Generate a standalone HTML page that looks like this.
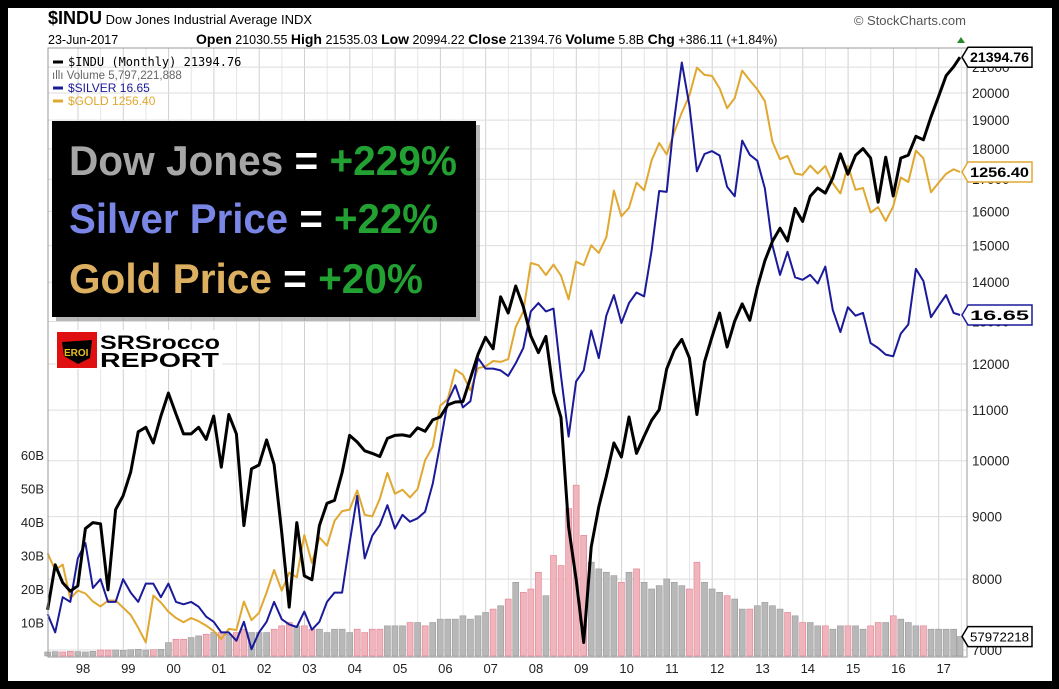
<!DOCTYPE html>
<html><head><meta charset="utf-8"><style>
html,body{margin:0;padding:0;background:#000;}
svg{display:block;font-family:"Liberation Sans",sans-serif;}
</style></head><body>
<svg id="chart" width="1059" height="689" viewBox="0 0 1059 689" xmlns="http://www.w3.org/2000/svg">
<rect x="0" y="0" width="1059" height="689" fill="#000"/>
<rect x="8" y="8" width="1044" height="673" fill="#fff"/>
<g id="grid"></g>
<g id="vol"></g>
<g id="lines"></g>
<rect x="48" y="48" width="919" height="609" fill="none" stroke="#999" stroke-width="1"/>
<g id="axes"></g>
<text x="48" y="24" font-size="13"><tspan font-weight="bold" font-size="18">$INDU</tspan> Dow Jones Industrial Average INDX</text>
<text x="966" y="25" font-size="13" fill="#555" text-anchor="end">© StockCharts.com</text>
<text x="48" y="44" font-size="12.5">23-Jun-2017</text>
<text x="196" y="44" font-size="12.5"><tspan font-weight="bold" font-size="14">Open</tspan> 21030.55 <tspan font-weight="bold" font-size="14">High</tspan> 21535.03 <tspan font-weight="bold" font-size="14">Low</tspan> 20994.22 <tspan font-weight="bold" font-size="14">Close</tspan> 21394.76 <tspan font-weight="bold" font-size="14">Volume</tspan> 5.8B <tspan font-weight="bold" font-size="14">Chg</tspan> +386.11 (+1.84%)</text>
<polygon points="957,43 965,43 961,37" fill="#2a8a2a"/>
<g font-family="'DejaVu Sans Mono','Liberation Mono',monospace" font-size="12">
<line x1="53" y1="62" x2="63" y2="62" stroke="#000" stroke-width="3"/>
<text x="68" y="66" fill="#000">$INDU (Monthly) 21394.76</text>
<text x="52" y="79" fill="#666" font-family="'Liberation Sans',sans-serif" font-size="11.5">ıllı Volume 5,797,221,888</text>
<line x1="53" y1="88" x2="63" y2="88" stroke="#1a1a9a" stroke-width="3"/>
<text x="68" y="92" fill="#1a1a9a" font-family="'Liberation Sans',sans-serif">$SILVER 16.65</text>
<line x1="53" y1="101" x2="63" y2="101" stroke="#e0a830" stroke-width="3"/>
<text x="68" y="105" fill="#e0a830" font-family="'Liberation Sans',sans-serif">$GOLD 1256.40</text>
</g>
<rect x="56" y="125" width="424" height="196" fill="#888" opacity="0.6"/>
<rect x="52" y="121" width="424" height="196" fill="#000"/>
<text x="69" y="175" font-size="42" font-weight="bold" textLength="388" lengthAdjust="spacingAndGlyphs"><tspan fill="#a6a6a6">Dow Jones</tspan><tspan fill="#fff"> = </tspan><tspan fill="#22a032">+229%</tspan></text>
<text x="69" y="233" font-size="42" font-weight="bold" textLength="369" lengthAdjust="spacingAndGlyphs"><tspan fill="#7a86e6">Silver Price</tspan><tspan fill="#fff"> = </tspan><tspan fill="#22a032">+22%</tspan></text>
<text x="69" y="293" font-size="42" font-weight="bold" textLength="354" lengthAdjust="spacingAndGlyphs"><tspan fill="#dcb060">Gold Price</tspan><tspan fill="#fff"> = </tspan><tspan fill="#22a032">+20%</tspan></text>
<g>
<rect x="56" y="330" width="166" height="39" fill="#fff"/>
<rect x="57" y="332" width="40" height="36" fill="#e01010"/>
<path d="M62 342 L92 340 L90 358 L78 364 L64 356 Z" fill="#000"/>
<text x="64" y="356" font-size="10" font-weight="bold" fill="#e8c020">EROI</text>
<text x="100" y="349" font-size="19" font-weight="bold" fill="#000" textLength="120" lengthAdjust="spacingAndGlyphs">SRSrocco</text>
<text x="100" y="367" font-size="20" font-weight="bold" fill="#000" textLength="119" lengthAdjust="spacingAndGlyphs">REPORT</text>
</g>
</svg>
<script>
const dow = [7550,8220,7945,7820,
7900,8800,8900,8880,7840,9120,
9360,9790,10560,10650,10340,10880,
11360,10920,10520,10520,10650,10410,
10880,9880,10910,10520,8850,9850,
9920,10400,9930,8740,7590,8900,
8050,7990,8850,9230,9280,9780,
10490,10360,10190,10140,10080,10430,
10490,10500,10470,10640,10570,10800,
10860,11110,11170,11180,11680,12220,
12620,12350,13620,13210,13900,13370,
12650,12260,12640,11380,10850,8830,
8000,7100,8500,9170,9710,10340,
10070,10860,10140,10470,10790,11010,
11890,12320,12570,12140,10910,12050,
12630,13210,12390,13010,13440,13030,
13860,14580,15120,15500,15130,16090,
15700,16460,16720,16560,17040,17830,
17160,17780,18010,17690,16280,17720,
16470,17690,17790,18430,18310,19120,
19860,20660,21010,21394.76];
const silver = [4.75,4.4,5.1,5.0,
6.0,6.4,5.3,5.5,5.0,5.0,
5.5,5.2,5.0,5.4,5.4,5.1,
5.4,5.0,4.95,5.0,4.9,4.7,
4.6,4.4,4.4,4.25,4.6,4.1,
4.4,4.6,5.0,4.65,4.55,4.5,
4.8,4.45,4.6,5.0,5.2,5.2,
6.4,7.8,6.0,6.6,6.9,7.5,
6.8,7.2,7.0,7.1,7.3,8.2,
9.7,11.6,12.4,11.3,11.6,13.9,
13.3,13.3,13.2,12.9,13.6,14.5,
16.9,17.5,16.9,17.1,12.9,10.0,
12.6,13.2,15.6,13.9,16.6,18.1,
16.1,17.5,18.3,18.0,21.8,28.0,
27.9,37.9,48.0,40.1,30.4,32.7,
33.1,32.5,28.5,27.4,34.6,32.6,
31.8,28.3,22.3,19.7,21.7,19.5,
19.3,19.7,19.0,20.4,17.0,15.5,
17.2,16.6,16.8,14.8,14.5,14.1,
14.0,15.4,16.0,20.2,19.2,16.5,
17.3,18.1,16.8,16.65];
const gold = [345,326,332,296,
304,301,293,288,294,294,
287,280,268,255,299,292,
283,277,273,277,274,270,
265,258,267,266,293,275,
282,302,326,304,323,318,
367,334,364,354,385,398,
400,427,393,391,415,453,
422,428,417,429,473,495,
569,582,643,632,599,646,
650,662,660,666,743,783,
923,916,886,918,884,816,
927,916,980,955,1007,1180,
1081,1113,1212,1181,1307,1386,
1333,1439,1536,1628,1790,1746,
1740,1668,1560,1614,1772,1714,
1663,1597,1393,1312,1327,1250,
1244,1284,1250,1282,1210,1168,
1284,1183,1190,1095,1115,1064,
1118,1233,1214,1351,1316,1173,
1211,1249,1268,1256.4];
const volumeB = [1.2,1.3,1.2,1.4,
1.3,1.2,1.4,1.8,1.8,1.8,
1.7,1.9,2.0,1.8,1.9,2.0,
4,5,5,5.5,6,6.5,
7,7,6.5,7,8,7,
7,7,8,9,10,9,
9,8,8,7,8,8,
7,8,7,8,8,9,
9,9,10,10,9,10,
11,11,11,12,11,12,
13,14,15,17,22,19,
20,25,18,30,27,44,
51,36,28,26,25,24,
22,25,26,22,20,21,
23,22,21,20,28,22,
20,19,18,17,14,14,
15,16,15,14,13,12,
10,10,9,9,8,9,
9,9,8,9,10,10,
12,11,10,9,9,8,
8,8,8,5.8];
const yearLabels = ["98","99","00","01","02","03","04","05","06","07","08","09","10","11","12","13","14","15","16","17"];
const dowTicks = [7000,8000,9000,10000,11000,12000,13000,14000,15000,16000,17000,18000,19000,20000,21000];
const volTicks = [10,20,30,40,50,60];

const NS="http://www.w3.org/2000/svg";
function mk(tag,attrs,parent){const e=document.createElementNS(NS,tag);for(const k in attrs)e.setAttribute(k,attrs[k]);parent.appendChild(e);return e;}
function tOf(i){return i<121?1997.33+i/6:2017.47;}
function xScale(t){return 78+(t-1998)*45.3;}
function yDow(v){return 650-530.6*Math.log(v/7000);}
function ySilver(v){return 315-238.5*Math.log(v/16.65);}
function yGold(v){return 172-295*Math.log(v/1256.4);}
function yVol(b){return 656-3.35*b;}

const grid=document.getElementById('grid');
for(let y=1998;y<=2017.5;y+=0.5){
  const gl=mk('line',{x1:xScale(y),x2:xScale(y),y1:48,y2:657,stroke:(y%1===0)?'#d0d0d0':'#e6e6e6','stroke-width':1},grid);
  
  
}
const axes=document.getElementById('axes');
dowTicks.forEach(v=>{
  const y=yDow(v);
  const gl=mk('line',{x1:48,x2:967,y1:y,y2:y,stroke:'#dedede','stroke-width':1},grid);
  
  
  const tx=mk('text',{x:972,y:y+5,'font-size':13.5,fill:'#222'},axes);
  tx.textContent=v;
  
  
});
volTicks.forEach(b=>{
  const tx=mk('text',{x:44,y:yVol(b)+5,'font-size':13,fill:'#222','text-anchor':'end'},axes);
  tx.textContent=b+'B';
  
  
});
yearLabels.forEach((l,k)=>{
  const tx=mk('text',{x:xScale(1998+k)+5,y:673,'font-size':13,fill:'#222','text-anchor':'middle'},axes);
  tx.textContent=l;
  
  
});

const vol=document.getElementById('vol');
volumeB.forEach((b,i)=>{
  const down=i>0&&dow[i]<dow[i-1];
  const x=xScale(tOf(i));
  const r=mk('rect',{x:x-3,y:yVol(b),width:6,height:656-yVol(b),fill:down?'#f0b4bc':'#b8b8b8',stroke:down?'#e08090':'#999','stroke-width':0.6},vol);
  
  
});

const lines=document.getElementById('lines');
function path(arr,yf,color,w,name){
  const d=arr.map((v,i)=>(i?'L':'M')+xScale(tOf(i)).toFixed(1)+' '+yf(v).toFixed(1)).join(' ');
  const p=mk('path',{d:d,fill:'none',stroke:color,'stroke-width':w,'stroke-linejoin':'round'},lines);
  
  
}
path(gold,yGold,'#e0a830',2,'gold-line');
path(silver,ySilver,'#1a1a9a',2,'silver-line');
path(dow,yDow,'#000',3,'dow-line');

function tag(val,y,color,name,bold){
  const g=mk('g',{},axes);
  
  
  mk('path',{d:`M962 ${y} L968 ${y-10} L1032 ${y-10} L1032 ${y+10} L968 ${y+10} Z`,fill:'#fff',stroke:color,'stroke-width':1.5},g);
  const t=mk('text',{x:970,y:y+5,'font-size':bold?14:13,'font-weight':bold?'bold':'normal',fill:'#000',textLength:59,lengthAdjust:'spacingAndGlyphs'},g);
  t.textContent=val;
}
tag('21394.76',yDow(dow[dow.length-1]),'#000','dow-value-tag',true);
tag('1256.40',yGold(gold[gold.length-1]),'#e0a830','gold-value-tag',true);
tag('16.65',ySilver(silver[silver.length-1]),'#1a1a9a','silver-value-tag',true);
tag('57972218',yVol(volumeB[volumeB.length-1]),'#000','volume-value-tag',false);
</script>
</body></html>
